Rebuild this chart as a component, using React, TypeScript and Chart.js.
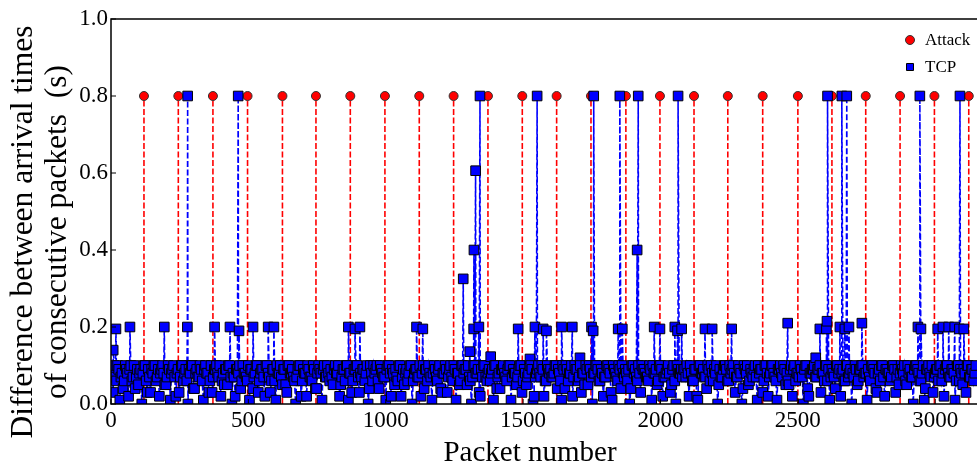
import React, { useEffect, useRef } from 'react';
import { Chart, registerables } from 'chart.js';

Chart.register(...registerables);

// ---------------- data ----------------
const xMin = 0;
const xMax = 3152;
const yMin = 0;
const yMax = 1;
const xTickValues = [0, 500, 1000, 1500, 2000, 2500, 3000];
const yTickValues = [0, 0.2, 0.4, 0.6, 0.8, 1.0];

const attackLabel = 'Attack';
const tcpLabel = 'TCP';

// packet numbers of the attack packets and their inter-arrival gaps (s)
const attackPackets = [
  120, 245, 371, 497, 624, 746, 871, 997, 1122, 1247, 1372, 1497, 1622,
  1747, 1874, 1998, 2122, 2245, 2372, 2500, 2624, 2747, 2872, 2997, 3122,
];
const attackValues = [
  0.8, 0.8, 0.8, 0.8, 0.8, 0.8, 0.8, 0.8, 0.8, 0.8, 0.8, 0.8, 0.8,
  0.8, 0.8, 0.8, 0.8, 0.8, 0.8, 0.8, 0.8, 0.8, 0.8, 0.8, 0.8,
];

// normal TCP traffic (the dense band), in hundredths of a second.
// band A: packets 0, 8, 16, ...   band B: packets 4, 12, 20, ...
const tcpBandStep = 8;
const tcpBandAOffset = 0;
const tcpBandBOffset = 4;
const tcpBandA = [
  9, 3, 7, 10, 1, 8, 6, 9, 2, 10, 7, 4, 9, 8, 0, 10, 6, 9, 3, 8,
  10, 7, 2, 9, 8, 5, 10, 1, 9, 7, 8, 3, 10, 6, 9, 0, 8, 10, 4, 9,
  7, 9, 1, 10, 8, 6, 3, 9, 10, 7, 2, 8, 9, 5, 10, 0, 7, 9, 8, 4,
  10, 8, 6, 1, 9, 7, 10, 3, 8, 9, 2, 10, 7, 6, 9, 1, 8, 10, 5, 9,
  3, 10, 8, 7, 0, 9, 10, 6, 8, 2, 9, 7, 10, 4, 8, 9, 1, 10, 7, 8,
  9, 5, 10, 8, 2, 7, 9, 10, 1, 8, 6, 9, 10, 3, 7, 9, 8, 0, 10, 6,
  8, 10, 4, 9, 7, 1, 10, 8, 9, 5, 7, 10, 2, 9, 8, 6, 10, 0, 8, 9,
  7, 2, 10, 9, 6, 8, 1, 10, 7, 9, 4, 8, 10, 3, 9, 7, 10, 1, 8, 6,
  10, 9, 5, 7, 0, 10, 8, 9, 2, 7, 10, 6, 9, 8, 1, 10, 7, 4, 9, 8,
  6, 10, 1, 9, 8, 7, 10, 3, 9, 5, 8, 10, 0, 7, 9, 8, 10, 2, 6, 9,
  9, 7, 10, 4, 8, 1, 9, 10, 6, 8, 2, 10, 9, 7, 3, 8, 10, 5, 9, 0,
  8, 10, 6, 9, 2, 7, 10, 8, 1, 9, 7, 10, 4, 8, 9, 6, 0, 10, 8, 7,
  10, 3, 9, 8, 7, 10, 1, 8, 9, 6, 10, 2, 7, 9, 8, 5, 10, 0, 9, 8,
  7, 9, 10, 2, 8, 6, 9, 1, 10, 8, 7, 4, 9, 10, 6, 8, 0, 9, 7, 10,
  9, 6, 8, 10, 3, 7, 9, 0, 10, 8, 5, 9, 7, 10, 1, 8, 9, 6, 10, 2,
  8, 10, 7, 1, 9, 8, 10, 5, 6, 9, 2, 10, 8, 7, 9, 0, 10, 4, 8, 9,
  10, 7, 9, 3, 8, 10, 6, 1, 9, 7, 10, 8, 2, 9, 6, 10, 8, 0, 7, 9,
  6, 9, 10, 8, 1, 7, 10, 9, 4, 8, 6, 10, 2, 9, 8, 7, 10, 3, 9, 8,
  9, 10, 5, 8, 7, 0, 10, 9, 6, 8, 1, 9, 10, 7, 3, 8, 9, 10, 6, 2,
  10, 8, 7, 9, 1, 10, 6, 8, 9, 3, 10, 7, 9, 8,
];
const tcpBandB = [
  8, 10, 6, 9, 7, 4, 10, 8, 9, 6, 10, 7, 5, 9, 8, 10, 3, 7, 9, 10,
  6, 9, 8, 10, 5, 7, 9, 8, 10, 2, 9, 7, 10, 8, 6, 9, 10, 4, 8, 7,
  10, 6, 9, 8, 3, 10, 7, 9, 8, 10, 6, 5, 9, 10, 7, 8, 2, 9, 10, 6,
  8, 7, 10, 9, 4, 8, 10, 6, 9, 7, 10, 8, 3, 9, 6, 10, 8, 7, 9, 5,
  10, 8, 9, 6, 7, 10, 2, 9, 8, 10, 7, 6, 9, 4, 10, 8, 9, 7, 10, 6,
  7, 9, 8, 10, 5, 9, 6, 10, 8, 3, 9, 10, 7, 8, 9, 6, 10, 4, 8, 10,
  9, 6, 10, 8, 7, 9, 10, 2, 8, 9, 6, 10, 7, 5, 9, 8, 10, 6, 9, 7,
  10, 8, 4, 9, 10, 7, 8, 9, 6, 10, 3, 8, 9, 7, 10, 6, 9, 8, 5, 10,
  8, 9, 10, 6, 7, 10, 8, 3, 9, 10, 7, 8, 6, 9, 10, 4, 8, 9, 10, 7,
  9, 10, 7, 8, 5, 9, 10, 6, 8, 7, 10, 9, 2, 8, 10, 7, 9, 6, 10, 8,
  7, 8, 10, 9, 6, 10, 4, 9, 8, 10, 7, 9, 6, 10, 8, 5, 9, 10, 7, 8,
  10, 9, 6, 8, 7, 10, 9, 3, 10, 8, 6, 9, 10, 7, 8, 9, 4, 10, 9, 6,
  8, 10, 9, 7, 6, 9, 10, 8, 5, 10, 9, 7, 8, 10, 3, 9, 6, 10, 8, 9,
  9, 7, 8, 10, 6, 9, 2, 10, 8, 9, 7, 10, 6, 8, 9, 10, 5, 7, 9, 10,
  6, 10, 9, 8, 7, 10, 8, 4, 9, 10, 6, 8, 9, 7, 10, 9, 3, 10, 8, 7,
  10, 8, 6, 9, 10, 7, 9, 8, 5, 10, 9, 6, 8, 10, 7, 9, 10, 2, 8, 9,
  7, 9, 10, 8, 6, 10, 9, 7, 8, 4, 10, 9, 8, 6, 10, 7, 9, 8, 10, 5,
  9, 10, 7, 8, 9, 6, 10, 8, 3, 9, 10, 7, 9, 8, 6, 10, 9, 7, 5, 10,
  8, 6, 10, 9, 7, 9, 10, 8, 6, 10, 4, 9, 8, 10, 7, 9, 6, 10, 8, 9,
  10, 7, 9, 8, 6, 10, 9, 5, 8, 10, 7, 9, 6, 10,
];

// TCP packets that stand out above the band
const tcpSpikePackets = [
  8, 18, 69, 194, 278, 279, 377, 433, 463, 466, 517, 572, 593,
  864, 888, 906, 1112, 1135, 1282, 1306, 1320, 1321, 1327, 1339, 1343,
  1382, 1482, 1525, 1543, 1551, 1573, 1585, 1640, 1679, 1707, 1749, 1755,
  1757, 1846, 1852, 1861, 1915, 1919, 1977, 1998, 2052, 2062, 2064, 2077,
  2162, 2188, 2259, 2463, 2565, 2580, 2604, 2606, 2608, 2653, 2660, 2671,
  2678, 2686, 2733, 2937, 2944, 2948, 3009, 3028, 3049, 3071, 3088, 3090, 3104,
];
const tcpSpikeValues = [
  0.14, 0.195, 0.2, 0.2, 0.2, 0.8, 0.2, 0.2, 0.8, 0.19, 0.2, 0.2, 0.2,
  0.2, 0.195, 0.2, 0.2, 0.195, 0.325, 0.136, 0.195, 0.4, 0.606, 0.2, 0.8,
  0.123, 0.195, 0.117, 0.2, 0.8, 0.195, 0.19, 0.2, 0.2, 0.12, 0.2, 0.19,
  0.8, 0.195, 0.8, 0.195, 0.4, 0.8, 0.2, 0.195, 0.2, 0.19, 0.8, 0.195,
  0.195, 0.195, 0.195, 0.21, 0.12, 0.195, 0.195, 0.215, 0.8, 0.2, 0.8, 0.195,
  0.8, 0.2, 0.21, 0.2, 0.8, 0.195, 0.195, 0.2, 0.2, 0.2, 0.195, 0.8, 0.195,
];

const xTitle = 'Packet number';
const yTitleLines = ['Difference between arrival times', 'of consecutive packets  (s)'];

// ---------------- styles ----------------
const RED = '#ff0000';
const BLUE = '#0000ff';
const SERIF = '"Liberation Serif", "Times New Roman", serif';

const frameAndTextPlugin = {
  id: 'frameAndText',
  afterDraw(chart: any) {
    const { ctx, chartArea } = chart;
    const { left, right, top, bottom } = chartArea;
    ctx.save();
    ctx.strokeStyle = '#000';
    ctx.lineWidth = 1.5;
    ctx.beginPath();
    ctx.moveTo(right + 2, top);
    ctx.lineTo(left, top);
    ctx.lineTo(left, bottom);
    ctx.lineTo(right + 2, bottom);
    ctx.stroke();
    ctx.lineWidth = 1;
    const ys = chart.scales.y;
    ys.ticks.forEach((t: any) => {
      const py = ys.getPixelForValue(t.value);
      ctx.beginPath();
      ctx.moveTo(left, py);
      ctx.lineTo(left + 5, py);
      ctx.stroke();
    });
    const xs = chart.scales.x;
    xs.ticks.forEach((t: any) => {
      const px = xs.getPixelForValue(t.value);
      ctx.beginPath();
      ctx.moveTo(px, bottom);
      ctx.lineTo(px, bottom - 5);
      ctx.stroke();
    });

    ctx.fillStyle = '#000';
    ctx.font = `29px ${SERIF}`;
    ctx.textAlign = 'center';
    ctx.textBaseline = 'alphabetic';
    ctx.fillText(xTitle, 530, 461);

    ctx.font = `31.5px ${SERIF}`;
    ctx.save();
    ctx.translate(0, 232);
    ctx.rotate(-Math.PI / 2);
    ctx.fillText(yTitleLines[0], 0, 32);
    ctx.fillText(yTitleLines[1], 0, 66);
    ctx.restore();

    const ds = chart.data.datasets;
    const attackDs = ds[1];
    const tcpDs = ds[0];
    ctx.font = `17px ${SERIF}`;
    ctx.textAlign = 'left';
    ctx.textBaseline = 'middle';
    ctx.beginPath();
    ctx.arc(910, 40, 4.5, 0, Math.PI * 2);
    ctx.fillStyle = attackDs.pointBackgroundColor;
    ctx.fill();
    ctx.strokeStyle = '#333';
    ctx.lineWidth = 1;
    ctx.stroke();
    ctx.fillStyle = '#000';
    ctx.fillText(attackDs.label, 925, 41);
    ctx.beginPath();
    ctx.rect(906.5, 63.5, 7, 7);
    ctx.fillStyle = tcpDs.pointBackgroundColor;
    ctx.fill();
    ctx.strokeStyle = '#000';
    ctx.stroke();
    ctx.fillStyle = '#000';
    ctx.fillText(tcpDs.label, 925, 68);
    ctx.restore();
  },
};

export default function App() {
  const canvasRef = useRef<HTMLCanvasElement | null>(null);

  useEffect(() => {
    document.body.style.margin = '0';
    document.body.style.overflow = 'hidden';
    const canvas = canvasRef.current;
    if (!canvas) return;

    const tcpPoints = [
      ...tcpBandA.map((v, i) => ({ x: tcpBandAOffset + i * tcpBandStep, y: v / 100 })),
      ...tcpBandB.map((v, i) => ({ x: tcpBandBOffset + i * tcpBandStep, y: v / 100 })),
      ...tcpSpikePackets.map((p, i) => ({ x: p, y: tcpSpikeValues[i] })),
    ].sort((a, b) => a.x - b.x);

    const attackPoints = attackPackets.flatMap((p, i) => [
      { x: p, y: 0 },
      { x: p, y: attackValues[i] },
    ]);

    const chart = new Chart(canvas, {
      type: 'line',
      data: {
        datasets: [
          {
            label: tcpLabel,
            data: tcpPoints,
            borderColor: BLUE,
            borderWidth: 1.6,
            borderDash: [6, 2.5],
            pointStyle: 'rect',
            pointRadius: 6.8,
            pointBackgroundColor: BLUE,
            pointBorderColor: '#000',
            pointBorderWidth: 1,
            tension: 0,
            clip: 0,
          } as any,
          {
            label: attackLabel,
            data: attackPoints,
            borderColor: RED,
            borderWidth: 1.6,
            borderDash: [6, 2.5],
            pointStyle: 'circle',
            pointRadius: (c: any) => (c.raw && c.raw.y > 0 ? 4.5 : 0),
            pointBackgroundColor: RED,
            pointBorderColor: '#333',
            pointBorderWidth: 1,
            tension: 0,
            clip: 0,
            segment: {
              borderColor: (c: any) =>
                c.p0.parsed.x === c.p1.parsed.x ? RED : 'rgba(0,0,0,0)',
            },
          } as any,
        ],
      },
      options: {
        animation: false,
        responsive: false,
        maintainAspectRatio: false,
        events: [],
        layout: { autoPadding: false, padding: { top: 19, left: 0, right: 0, bottom: 0 } },
        plugins: {
          legend: { display: false },
          tooltip: { enabled: false },
          title: { display: false },
        },
        scales: {
          x: {
            type: 'linear',
            min: xMin,
            max: xMax,
            border: { display: false },
            grid: { display: false, drawTicks: false },
            afterBuildTicks: (s: any) => {
              s.ticks = xTickValues.map((v) => ({ value: v }));
            },
            ticks: {
              maxRotation: 0,
              autoSkip: false,
              padding: 3,
              color: '#000',
              font: { family: SERIF, size: 23 },
              callback: (v: any) => String(v),
            },
            afterFit: (s: any) => {
              s.height = 59;
              s.paddingLeft = 0;
              s.paddingRight = 0;
            },
          },
          y: {
            type: 'linear',
            min: yMin,
            max: yMax,
            border: { display: false },
            grid: { display: false, drawTicks: false },
            afterBuildTicks: (s: any) => {
              s.ticks = yTickValues.map((v) => ({ value: v }));
            },
            ticks: {
              padding: 3,
              color: '#000',
              font: { family: SERIF, size: 23 },
              callback: (v: any) => Number(v).toFixed(1),
            },
            afterFit: (s: any) => {
              s.width = 111;
              s.paddingTop = 0;
              s.paddingBottom = 0;
            },
          },
        },
      },
      plugins: [frameAndTextPlugin],
    });

    return () => chart.destroy();
  }, []);

  return (
    <div style={{ position: 'fixed', left: 0, top: 0, width: 977, height: 463, background: '#fff' }}>
      <canvas ref={canvasRef} width={977} height={463} style={{ width: 977, height: 463, display: 'block' }} />
    </div>
  );
}
